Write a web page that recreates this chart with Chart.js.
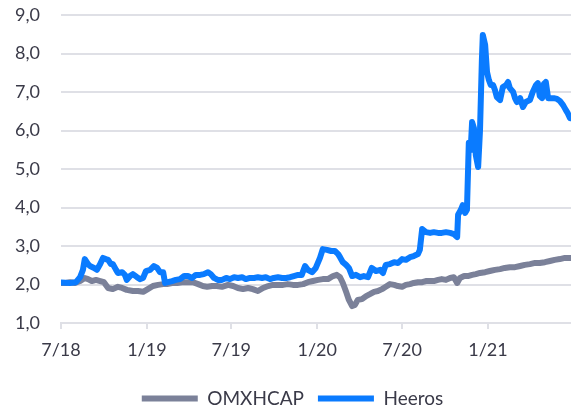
<!DOCTYPE html>
<html>
<head>
<meta charset="utf-8">
<script src="https://cdn.jsdelivr.net/npm/chart.js@4"></script>
<style>
  html, body { margin: 0; padding: 0; background: #fff; }
  #wrap { width: 571px; height: 408px; position: relative; }
</style>
</head>
<body>
<div id="wrap"><canvas id="chart"></canvas></div>
<script>
// x values are days since 1 July 2018
const tickDays = [0, 184, 365, 549, 731, 915];
const tickLabels = ['7/18', '1/19', '7/19', '1/20', '7/20', '1/21'];

const heerosDays = [0, 19, 32, 41, 47, 51, 58, 62, 71, 77, 84, 90, 96, 101, 107, 111, 118, 122, 131, 137,
  141, 148, 154, 163, 169, 176, 182, 191, 199, 206, 212, 219, 223, 229, 238, 246, 255, 264, 272, 281,
  289, 298, 306, 315, 321, 328, 336, 345, 354, 362, 371, 379, 388, 396, 405, 414, 422, 431, 439, 448,
  456, 465, 474, 482, 491, 499, 508, 516, 523, 529, 538, 546, 555, 561, 570, 579, 587, 594, 598, 604,
  611, 617, 624, 632, 641, 649, 658, 666, 675, 684, 690, 696, 705, 714, 722, 731, 739, 748, 756, 765,
  769, 774, 782, 791, 799, 808, 816, 825, 834, 842, 849, 851, 857, 861, 866, 870, 874, 878, 881, 885,
  889, 894, 898, 902, 904, 909, 913, 917, 921, 926, 930, 934, 941, 947, 954, 958, 962, 969, 973, 977,
  984, 990, 996, 1005, 1011, 1018, 1022, 1026, 1031, 1035, 1039, 1044, 1050, 1056, 1063, 1069, 1076, 1082, 1086, 1091, 1093];
const heerosValues = [2.05, 2.04, 2.06, 2.19, 2.38, 2.66, 2.53, 2.48, 2.43, 2.38, 2.53, 2.69, 2.66, 2.64, 2.53, 2.53, 2.38, 2.30, 2.32, 2.25,
  2.12, 2.22, 2.27, 2.19, 2.14, 2.17, 2.35, 2.38, 2.48, 2.43, 2.32, 2.32, 2.04, 2.06, 2.09, 2.12, 2.14, 2.22, 2.22, 2.17,
  2.25, 2.25, 2.27, 2.32, 2.27, 2.17, 2.12, 2.12, 2.17, 2.14, 2.19, 2.17, 2.19, 2.14, 2.17, 2.17, 2.19, 2.17, 2.19, 2.14,
  2.17, 2.19, 2.17, 2.17, 2.19, 2.22, 2.25, 2.25, 2.48, 2.38, 2.32, 2.43, 2.69, 2.92, 2.90, 2.87, 2.87, 2.79, 2.71, 2.58,
  2.51, 2.43, 2.22, 2.25, 2.19, 2.22, 2.19, 2.43, 2.35, 2.38, 2.30, 2.51, 2.53, 2.58, 2.56, 2.66, 2.64, 2.71, 2.74, 2.79,
  2.90, 3.44, 3.36, 3.34, 3.36, 3.34, 3.34, 3.36, 3.34, 3.31, 3.23, 3.81, 3.94, 4.06, 3.86, 3.94, 5.68, 5.49, 6.22, 6.06,
  5.36, 5.05, 6.01, 7.83, 8.48, 8.22, 7.52, 7.31, 7.18, 7.18, 7.05, 6.87, 6.79, 7.13, 7.18, 7.26, 7.10, 7.00, 6.84, 6.74,
  6.84, 6.61, 6.74, 6.79, 7.00, 7.18, 7.23, 6.90, 6.84, 7.21, 7.26, 6.84, 6.84, 6.84, 6.82, 6.77, 6.66, 6.53, 6.45, 6.32, 6.32];

const omxDays = [0, 11, 19, 30, 41, 51, 58, 66, 75, 84, 92, 101, 111, 122, 131, 141, 154, 165, 176, 186,
  197, 208, 219, 227, 238, 249, 259, 270, 283, 294, 304, 313, 324, 334, 345, 358, 369, 379, 390, 401,
  411, 422, 433, 444, 454, 465, 476, 486, 497, 508, 519, 529, 540, 551, 561, 572, 583, 591, 598, 604,
  611, 617, 624, 630, 636, 645, 654, 662, 671, 679, 688, 696, 705, 714, 722, 731, 739, 748, 756, 765,
  774, 782, 791, 799, 808, 816, 825, 834, 842, 849, 855, 864, 872, 881, 889, 898, 909, 919, 930, 941,
  951, 962, 973, 984, 994, 1005, 1016, 1026, 1037, 1048, 1058, 1069, 1080, 1093];
const omxValues = [2.04, 2.04, 2.06, 2.04, 2.09, 2.17, 2.14, 2.09, 2.12, 2.09, 2.06, 1.91, 1.88, 1.94, 1.91, 1.86, 1.83, 1.83, 1.81, 1.88,
  1.96, 1.99, 2.01, 2.01, 2.04, 2.04, 2.06, 2.06, 2.06, 2.01, 1.96, 1.94, 1.96, 1.96, 1.94, 1.99, 1.96, 1.91, 1.88, 1.91,
  1.88, 1.83, 1.91, 1.96, 1.99, 1.99, 1.99, 2.01, 1.99, 1.99, 2.01, 2.06, 2.09, 2.12, 2.14, 2.14, 2.22, 2.25, 2.19, 2.04,
  1.81, 1.60, 1.44, 1.47, 1.60, 1.62, 1.70, 1.75, 1.81, 1.83, 1.88, 1.94, 2.01, 1.99, 1.96, 1.94, 1.99, 2.01, 2.04, 2.06,
  2.06, 2.09, 2.09, 2.09, 2.12, 2.14, 2.12, 2.17, 2.19, 2.04, 2.17, 2.22, 2.22, 2.25, 2.27, 2.30, 2.32, 2.35, 2.38, 2.40,
  2.43, 2.45, 2.45, 2.48, 2.51, 2.53, 2.56, 2.56, 2.58, 2.61, 2.64, 2.66, 2.69, 2.69];

const GREY = '#7b8199';
const BLUE = '#0a7bff';
const GRID = '#dfe0e6';
const TEXT = '#3a3a48';
const FONT = "Lato, 'Open Sans', sans-serif";

const PLOT_BOTTOM = 323;

const toPoints = (xs, ys) => xs.map((x, i) => ({ x: x, y: ys[i] }));

// move the legend a little right and down, as in the reference
const legendShift = {
  id: 'legendShift',
  afterLayout(chart) {
    const lg = chart.legend;
    if (!lg) return;
    lg.left += 7; lg.right += 7;
    lg.top += 10; lg.bottom += 10;
  }
};

new Chart(document.getElementById('chart'), {
  type: 'line',
  data: {
    datasets: [
      {
        label: 'OMXHCAP',
        data: toPoints(omxDays, omxValues),
        borderColor: GREY,
        backgroundColor: GREY,
        borderWidth: 6,
        borderCapStyle: 'round',
        borderJoinStyle: 'round',
        pointRadius: 0,
        order: 1
      },
      {
        label: 'Heeros',
        data: toPoints(heerosDays, heerosValues),
        borderColor: BLUE,
        backgroundColor: BLUE,
        borderWidth: 6,
        borderCapStyle: 'round',
        borderJoinStyle: 'round',
        pointRadius: 0,
        order: 0
      }
    ]
  },
  options: {
    responsive: true,
    maintainAspectRatio: false,
    animation: false,
    layout: { padding: 0 },
    plugins: {
      tooltip: { enabled: false },
      legend: {
        position: 'bottom',
        labels: {
          usePointStyle: true,
          pointStyle: 'line',
          pointStyleWidth: 56,
          color: TEXT,
          font: { family: FONT, size: 19 },
          padding: 14,
          sort: (a, b) => a.datasetIndex - b.datasetIndex
        }
      }
    },
    scales: {
      x: {
        type: 'linear',
        min: 0,
        max: 1093,
        afterBuildTicks: (scale) => {
          scale.ticks = tickDays.map(v => ({ value: v }));
        },
        afterFit: (scale) => {
          const lg = scale.chart.legend;
          if (lg && lg.height) scale.height = scale.chart.height - PLOT_BOTTOM - lg.height;
        },
        grid: {
          drawOnChartArea: false,
          drawTicks: true,
          tickLength: 6,
          color: GRID,
          lineWidth: 2
        },
        border: { color: GRID, width: 2 },
        ticks: {
          color: TEXT,
          font: { family: FONT, size: 18 },
          padding: 10,
          maxRotation: 0,
          autoSkip: false,
          callback: (value) => tickLabels[tickDays.indexOf(value)]
        }
      },
      y: {
        min: 1,
        max: 9,
        afterFit: (scale) => {
          scale.width = 61;
          scale.paddingTop = 15;
          scale.paddingBottom = 11;
        },
        grid: {
          color: GRID,
          lineWidth: 2,
          drawTicks: false
        },
        border: { display: false },
        ticks: {
          stepSize: 1,
          color: TEXT,
          font: { family: FONT, size: 18 },
          padding: 21,
          callback: (value) => value.toFixed(1).replace('.', ',')
        }
      }
    }
  },
  plugins: [legendShift]
});
</script>
</body>
</html>
